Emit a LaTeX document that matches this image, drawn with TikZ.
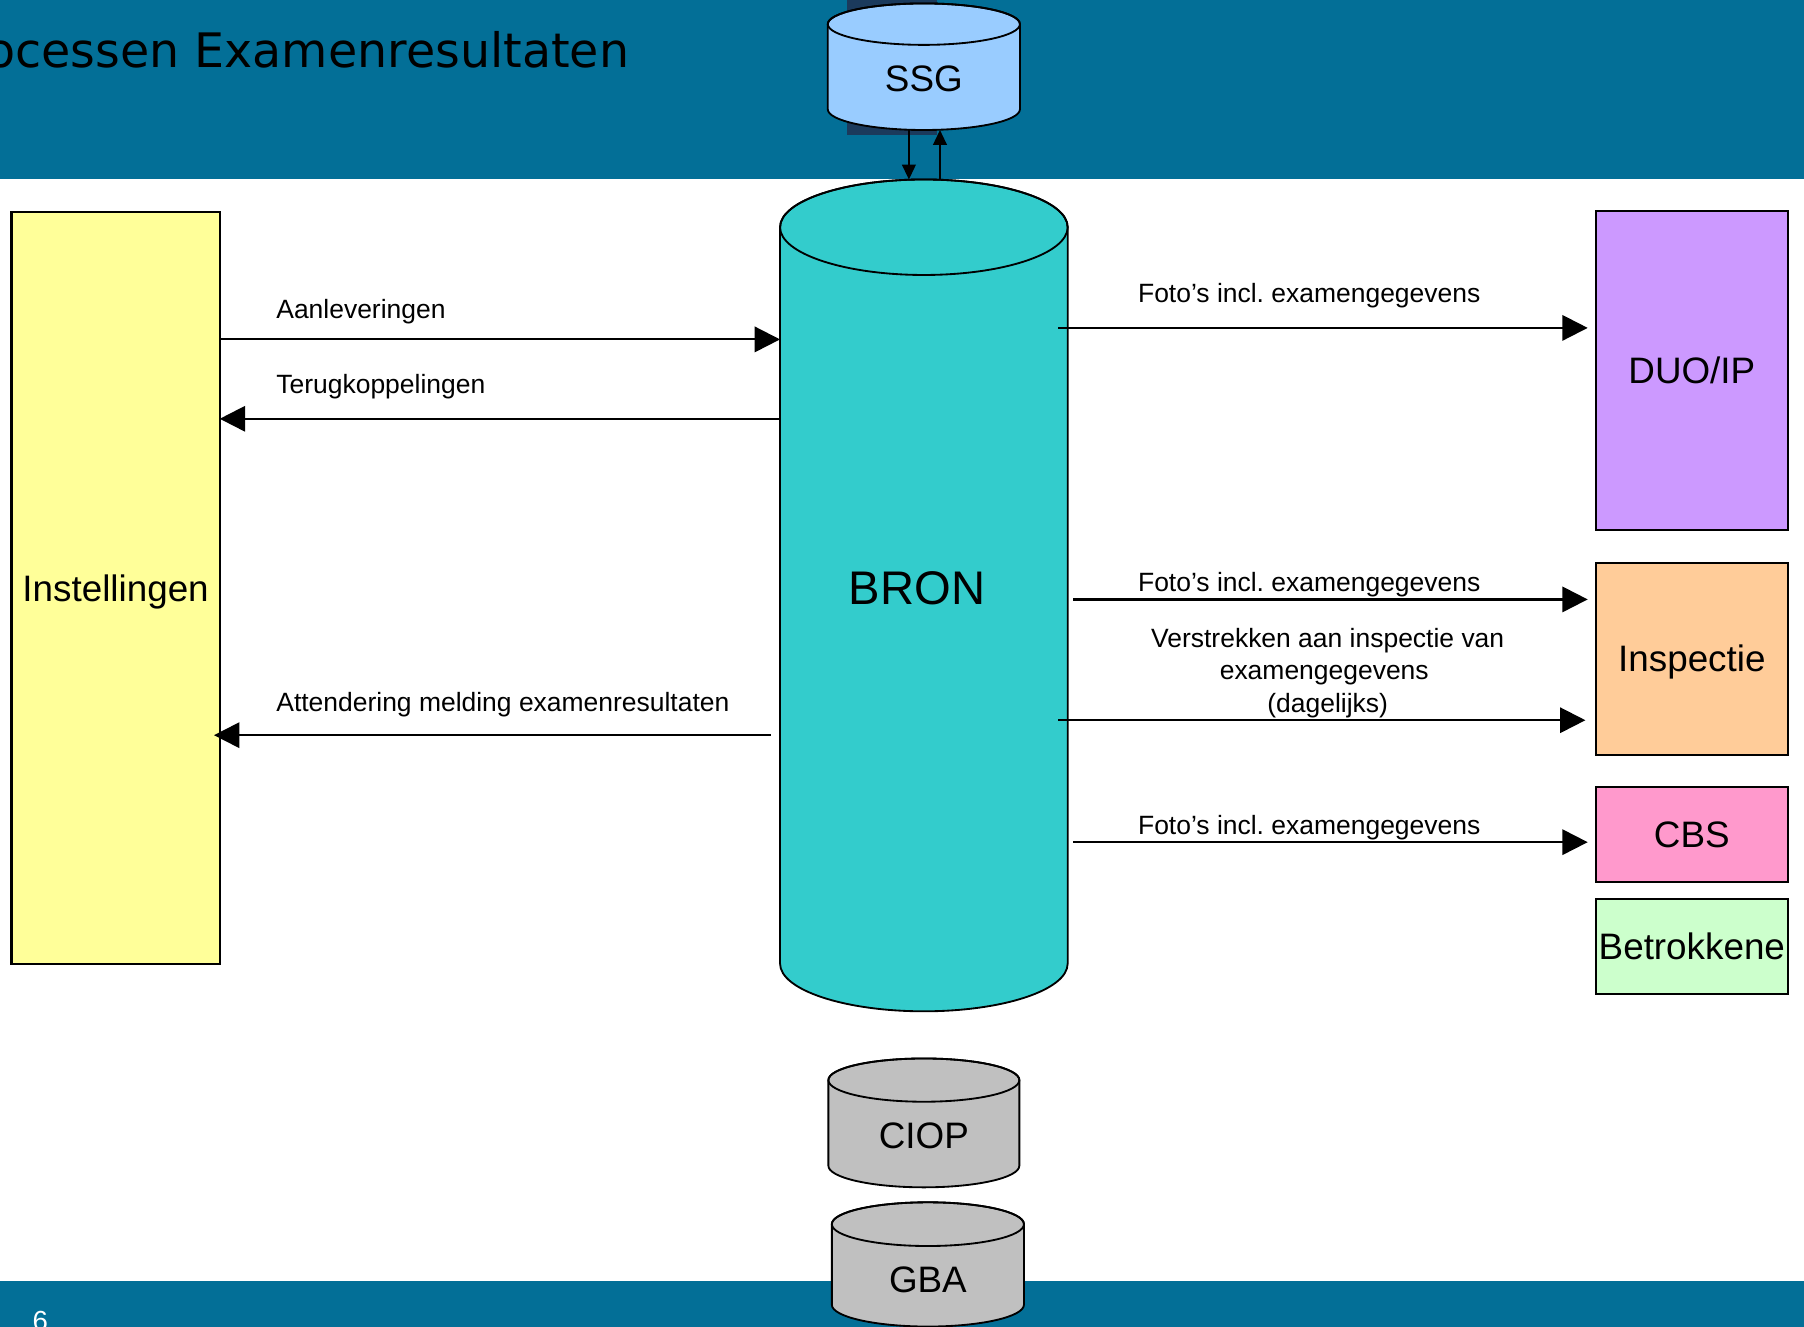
\documentclass[tikz,border=0pt]{standalone}
\usepackage{fontspec}
\setmainfont{Liberation Sans}
\newfontfamily\titlefont{DejaVu Sans}
\usetikzlibrary{arrows.meta,calc}
\definecolor{banner}{RGB}{3,111,151}
\definecolor{darkrect}{RGB}{27,58,92}
\definecolor{ssgfill}{HTML}{99CCFF}
\definecolor{bronfill}{HTML}{33CCCC}
\definecolor{greyfill}{HTML}{C0C0C0}
\definecolor{instfill}{HTML}{FFFF99}
\definecolor{duofill}{HTML}{CC99FF}
\definecolor{inspfill}{HTML}{FFCC99}
\definecolor{cbsfill}{HTML}{FF99CC}
\definecolor{betrfill}{HTML}{CCFFCC}
\newcommand\dbcyl[7]{% #1 name, #2 cx, #3 rx, #4 top, #5 bottom, #6 ry, #7 fill
  \filldraw[fill=#7, draw=black, line width=1.6]
    (#2-#3, #4+#6) -- (#2-#3, #5-#6)
    arc[start angle=180, end angle=0, x radius=#3, y radius=#6]
    -- (#2+#3, #4+#6)
    arc[start angle=0, end angle=-180, x radius=#3, y radius=#6] -- cycle;
  \draw[line width=1.6] (#2, #4+#6) ellipse[x radius=#3, y radius=#6];
  \node[inner sep=0, outer sep=0, minimum width={2*#3}, minimum height={#5-#4}] (#1) at (#2, {(#4+#5)/2}) {};
}
\begin{document}
\frenchspacing
\begin{tikzpicture}[x=1pt,y=-1pt,
  box/.style={draw=black, line width=1.8, inner sep=0, outer sep=0},
  arr/.style={line width=1.9, -{Triangle[length=22pt,width=22pt]}},
  sarr/.style={line width=1.5, -{Triangle[length=13pt,width=12pt]}},
  lbl/.style={inner sep=0, font=\fontsize{23}{28}\selectfont},
  big/.style={font=\fontsize{32}{38}\selectfont, text height=23pt, text depth=0pt}]
\useasboundingbox (0,0) rectangle (1568,1153);
\clip (0,0) rectangle (1568,1153);
% banners
\fill[banner] (0,0) rectangle (1568,156);
\fill[banner] (0,1113) rectangle (1568,1153);
\fill[darkrect] (736,0) rectangle (814,117);
\node[anchor=base east, inner sep=0, font=\titlefont\fontsize{41.3}{48}\selectfont] (title) at (547,59) {Processen Examenresultaten};
\node[anchor=base, inner sep=0, text=white, font=\fontsize{24}{28}\selectfont] (pnum) at (35,1156) {6};
% cylinders
\dbcyl{ssg}{803}{83.5}{3}{113}{18}{ssgfill}
\node[big, inner sep=0] (ssglbl) at (803,68) {SSG};
\dbcyl{bron}{803}{125}{156}{879}{41.5}{bronfill}
\node[font=\fontsize{41}{48}\selectfont, text height=29.4pt, text depth=0pt, inner sep=0] (bronlbl) at (797,511) {BRON};
\dbcyl{ciop}{803}{83}{920}{1032}{18.8}{greyfill}
\node[big, inner sep=0] (cioplbl) at (803,987) {CIOP};
\dbcyl{gba}{806.5}{83.5}{1045}{1153}{19}{greyfill}
\node[big, inner sep=0] (gbalbl) at (806.5,1112) {GBA};
% boxes
\node[box, fill=instfill, minimum width=181, minimum height=654, big] (inst) at (100.5,511) {Instellingen};
\node[box, fill=duofill, minimum width=167, minimum height=278, big] (duo) at (1470.5,322) {DUO/IP};
\node[box, fill=inspfill, minimum width=167, minimum height=167, big] (insp) at (1470.5,572.5) {Inspectie};
\node[box, fill=cbsfill, minimum width=167, minimum height=83, big] (cbs) at (1470.5,725.5) {CBS};
\node[box, fill=betrfill, minimum width=167, minimum height=83, big] (betr) at (1470.5,822.5) {Betrokkene};
% SSG <-> BRON
\draw[sarr] ($(ssg.south)+(-13,0)$) -- ($(bron.north)+(-13,0)$);
\draw[sarr] ($(bron.north)+(14,0)$) -- ($(ssg.south)+(14,0)$);
% left arrows
\coordinate (a1) at (0,295);
\coordinate (a2) at (0,364);
\coordinate (a3) at (0,639);
\draw[arr] (inst.east |- a1) -- (bron.west |- a1);
\draw[arr] (bron.west |- a2) -- (inst.east |- a2);
\draw[arr] ($(bron.west |- a3)+(-8,0)$) -- ($(inst.east |- a3)+(-5,0)$);
\node[lbl, anchor=base west] (l1) at (240,277) {Aanleveringen};
\node[lbl, anchor=base west] (l2) at (240,342) {Terugkoppelingen};
\node[lbl, anchor=base west] (l3) at (240,618) {Attendering melding examenresultaten};
% right arrows
\coordinate (b1) at (0,285);
\coordinate (b2) at (0,521);
\coordinate (b3) at (0,626);
\coordinate (b4) at (0,732);
\draw[arr] ($(bron.east |- b1)+(-8,0)$) -- ($(duo.west |- b1)+(-7,0)$);
\draw[arr] ($(bron.east |- b2)+(5,0)$) -- ($(insp.west |- b2)+(-7,0)$);
\draw[arr] ($(bron.east |- b3)+(-8,0)$) -- ($(insp.west |- b3)+(-9,0)$);
\draw[arr] ($(bron.east |- b4)+(5,0)$) -- ($(cbs.west |- b4)+(-7,0)$);
\node[lbl, anchor=base west] (r1) at (989,263) {Foto’s incl. examengegevens};
\node[lbl, anchor=base west] (r2) at (989,514) {Foto’s incl. examengegevens};
\node[lbl, anchor=base] (r3a) at (1154,563) {Verstrekken aan inspectie van};
\node[lbl, anchor=base] (r3b) at (1151,591) {examengegevens};
\node[lbl, anchor=base] (r3c) at (1154,619) {(dagelijks)};
\node[lbl, anchor=base west] (r4) at (989,725) {Foto’s incl. examengegevens};
\end{tikzpicture}
\end{document}
